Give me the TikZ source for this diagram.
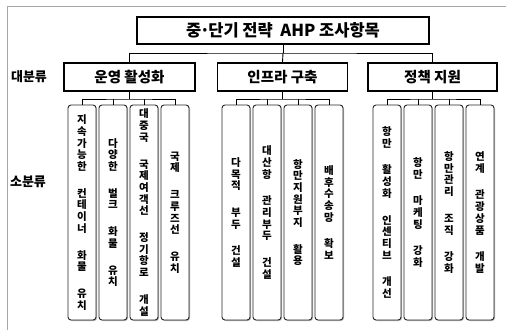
\documentclass[tikz,border=0pt]{standalone}
\usepackage{fontspec}
\setmainfont{Noto Sans CJK KR}
\usetikzlibrary{shadows}
\begin{document}
\begin{tikzpicture}[x=1pt,y=-1pt,
  box/.style={draw=black, line width=1.1pt, minimum height=28pt, inner sep=0pt, font=\fontsize{14.5}{14.5}\selectfont\bfseries},
  leaf/.style={draw=black!85, fill=white, line width=0.9pt, rounded corners=3pt, minimum width=28pt, minimum height=215pt, inner sep=0pt, align=center, font=\fontsize{10.5}{11.7}\selectfont\bfseries, general shadow={fill=black!30, shadow xshift=1pt, shadow yshift=-1pt}},
  conn/.style={line width=0.9pt},
  lab/.style={font=\fontsize{13}{13}\selectfont\bfseries}]
\useasboundingbox (0,0) rectangle (506,330);
\draw[black!35, line width=1pt] (7,330) -- (7,6) -- (506,6);
\node[box, minimum width=292pt, minimum height=27pt, font=\fontsize{16.5}{16.5}\selectfont\bfseries] (top) at (283,30.5) {중\kern-1.5pt·\kern-1.5pt단기 전략\ \ AHP 조사항목};
\node[box, minimum width=131pt] (m1) at (129.5,77) {운영 활성화};
\node[box, minimum width=130pt] (m2) at (282.5,77) {인프라 구축};
\node[box, minimum width=129pt] (m3) at (432.5,77) {정책 지원};
\node[lab] (c1) at (29,77) {대분류};
\node[lab] (c2) at (28,182) {소분류};
% leaves group 1
\node[leaf] (a1) at (82,212.5) {지\\속\\가\\능\\한\\[15pt]컨\\테\\이\\너\\[15pt]화\\물\\[15pt]유\\치};
\node[leaf] (a2) at (113,212.5) {다\\양\\한\\[15pt]벌\\크\\[15pt]화\\물\\[15pt]유\\치};
\node[leaf] (a3) at (144,212.5) {대\\중\\국\\[15pt]국\\제\\여\\객\\선\\[15pt]정\\기\\항\\로\\[15pt]개\\설};
\node[leaf] (a4) at (175,212.5) {국\\제\\[15pt]크\\루\\즈\\선\\[15pt]유\\치};
% leaves group 2
\node[leaf] (b1) at (236,212.5) {다\\목\\적\\[15pt]부\\두\\[15pt]건\\설};
\node[leaf] (b2) at (267,212.5) {대\\산\\항\\[15pt]관\\리\\부\\두\\[15pt]건\\설};
\node[leaf] (b3) at (298,212.5) {항\\만\\지\\원\\부\\지\\[15pt]활\\용};
\node[leaf] (b4) at (329,212.5) {배\\후\\수\\송\\망\\[15pt]확\\보};
% leaves group 3
\node[leaf] (d1) at (387,212.5) {항\\만\\[15pt]활\\성\\화\\[15pt]인\\센\\티\\브\\[15pt]개\\선};
\node[leaf] (d2) at (418,212.5) {항\\만\\[15pt]마\\케\\팅\\[15pt]강\\화};
\node[leaf] (d3) at (449,212.5) {항\\만\\관\\리\\[15pt]조\\직\\[15pt]강\\화};
\node[leaf] (d4) at (480,212.5) {연\\계\\[15pt]관\\광\\상\\품\\[15pt]개\\발};
% connectors
\coordinate (j0) at (283,53);
\draw[conn] (top.south) -- (j0);
\draw[conn] (m1.north) |- (j0) -| (m3.north);
\draw[conn] (j0) -- (m2.north);
\coordinate (j1) at (129.5,99);
\coordinate (j2) at (282.5,99);
\coordinate (j3) at (432.5,99);
\draw[conn] (m1.south) -- (j1);
\draw[conn] (m2.south) -- (j2);
\draw[conn] (m3.south) -- (j3);
\draw[conn] (a1.north) |- (j1) -| (a4.north);
\draw[conn] (a2.north) -- (a2.north |- j1);
\draw[conn] (a3.north) -- (a3.north |- j1);
\draw[conn] (b1.north) |- (j2) -| (b4.north);
\draw[conn] (b2.north) -- (b2.north |- j2);
\draw[conn] (b3.north) -- (b3.north |- j2);
\draw[conn] (d1.north) |- (j3) -| (d4.north);
\draw[conn] (d2.north) -- (d2.north |- j3);
\draw[conn] (d3.north) -- (d3.north |- j3);
\end{tikzpicture}
\end{document}
